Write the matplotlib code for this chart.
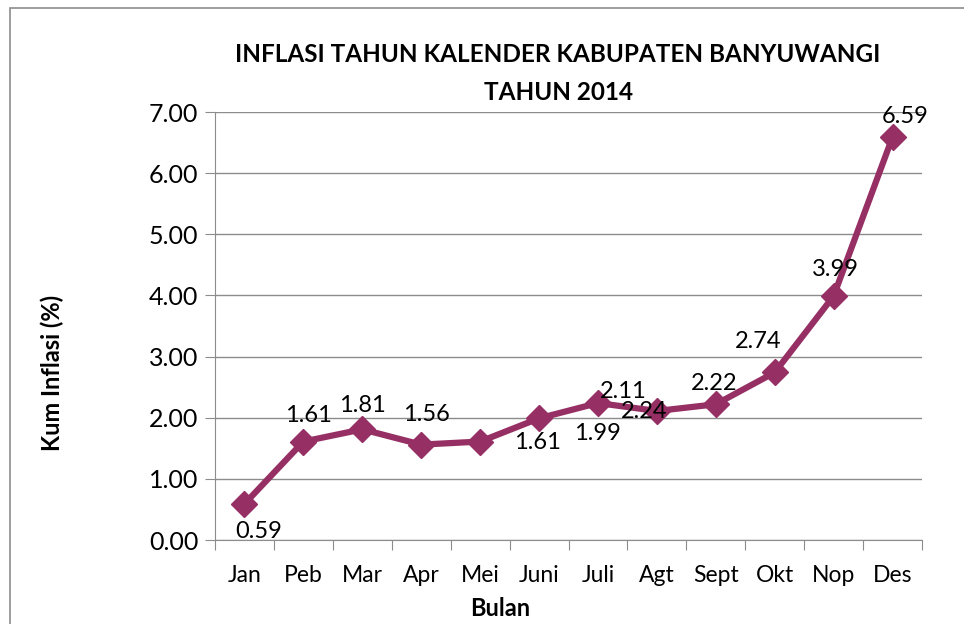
import numpy as np
import matplotlib.pyplot as plt
from matplotlib.patches import Rectangle

# Data
bulan = ["Jan", "Peb", "Mar", "Apr", "Mei", "Juni", "Juli", "Agt", "Sept", "Okt", "Nop", "Des"]
kum_inflasi = [0.59, 1.61, 1.81, 1.56, 1.61, 1.99, 2.24, 2.11, 2.22, 2.74, 3.99, 6.59]

# label offsets (points) to mimic the original placement
label_dx = [10, 4, 0, 4, 41, 42, 33, -24, -1, -12, 1, 9]
label_dy = [-20, 19, 17, 22, -1, -11, -6, 14, 15, 22, 19, 15]

color = "#963064"
plt.rcParams['font.family'] = ['Lato', 'DejaVu Sans']

fig = plt.figure(figsize=(9.64, 6.24), dpi=100)
fig.patches.append(Rectangle((10 / 964, -0.1), 1.2, 1 - 8 / 624 + 0.1,
                             transform=fig.transFigure, fill=False,
                             edgecolor="#8c8c8c", linewidth=1.2))

ax = fig.add_axes([215 / 964, 1 - 540 / 624, (922 - 215) / 964, (540 - 112) / 624])
x = np.arange(len(bulan))
ax.plot(x, kum_inflasi, color=color, linewidth=4.5, marker="D", markersize=13,
        markerfacecolor=color, markeredgecolor=color, zorder=3)

for i, v in enumerate(kum_inflasi):
    ax.annotate(f"{v:.2f}", (x[i], v), xytext=(label_dx[i], label_dy[i]),
                textcoords="offset points", ha="center", va="center",
                fontsize=17, color="black", zorder=4)

ax.set_xlim(-0.5, len(bulan) - 0.5)
ax.set_ylim(0, 7)
ax.set_yticks(np.arange(0, 7.01, 1))
ax.set_yticklabels([f"{t:.2f}" for t in np.arange(0, 7.01, 1)], fontsize=18)
ax.set_xticks(np.arange(-0.5, len(bulan), 1))
ax.set_xticklabels([])
ax.set_xticks(x, minor=True)
ax.set_xticklabels(bulan, minor=True, fontsize=16.5)
ax.tick_params(axis="x", which="major", length=7, color="#8c8c8c", direction="out")
ax.tick_params(axis="x", which="minor", length=0, pad=18)
ax.tick_params(axis="y", length=7, color="#8c8c8c", direction="out", pad=5)

ax.grid(axis="y", color="#8c8c8c", linewidth=1)
ax.set_axisbelow(True)
for s in ["top", "right"]:
    ax.spines[s].set_visible(False)
ax.spines["left"].set_color("#8c8c8c")
ax.spines["bottom"].set_color("#8c8c8c")

fig.text(558 / 964, 1 - 55 / 624, "INFLASI TAHUN KALENDER KABUPATEN BANYUWANGI", ha="center",
         va="center", fontsize=17.5, fontweight="bold")
fig.text(558 / 964, 1 - 92 / 624, "TAHUN 2014", ha="center", va="center", fontsize=17.5,
         fontweight="bold")
fig.text(52 / 964, 1 - 373 / 624, "Kum Inflasi (%)", rotation=90, ha="center",
         va="center", fontsize=17, fontweight="bold")
fig.text(500 / 964, 1 - 609 / 624, "Bulan", ha="center", va="center", fontsize=17,
         fontweight="bold")

fig.savefig("out.png", dpi=100)
